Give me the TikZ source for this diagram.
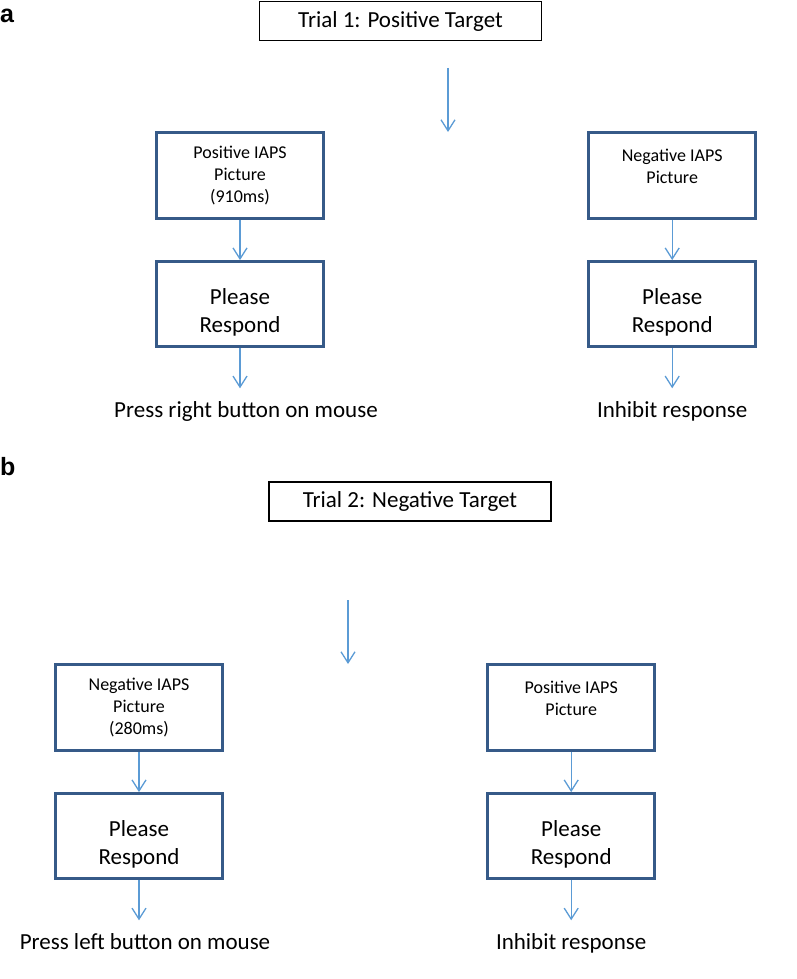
\documentclass[tikz,border=0pt]{standalone}
\usepackage{fontspec}
\setmainfont{Carlito}
\newfontfamily\panelfont{Liberation Sans}
\usetikzlibrary{positioning,arrows.meta}
\definecolor{boxblue}{HTML}{365A88}
\definecolor{arrowblue}{HTML}{5B9BD5}

% extra room so the text sits where the slides put it
\newcommand{\toproom}{\rule{0pt}{33pt}}
\newcommand{\lowroom}{\rule[-18pt]{0pt}{18pt}}

\tikzstyle{trial} = [rectangle, minimum width=282pt, minimum height=39pt, inner sep=0pt, text centered, draw=black, line width=1.2pt, font=\fontsize{23}{27}\selectfont]
\tikzstyle{stimulus} = [rectangle, minimum width=167pt, minimum height=86pt, inner sep=0pt, align=center, draw=boxblue, line width=3.2pt, font=\fontsize{18}{21.7}\selectfont]
\tikzstyle{respond} = [rectangle, minimum width=167pt, minimum height=85pt, inner sep=0pt, align=center, draw=boxblue, line width=3.2pt, font=\fontsize{23}{28}\selectfont]
\tikzstyle{outcome} = [inner xsep=0pt, inner ysep=13pt, font=\fontsize{23}{27}\selectfont]
\tikzstyle{panel} = [anchor=base west, inner sep=0pt, font=\panelfont\bfseries\fontsize{25}{30}\selectfont]
\tikzstyle{arrow} = [draw=arrowblue, line width=1.3pt, -{Straight Barb[length=11pt,width=14pt]}]

\begin{document}
\begin{tikzpicture}[x=1pt, y=-1pt, node distance=40pt]
			\useasboundingbox (0,0) rectangle (797,979);

			% panel a
			\node (la) [panel] at (0,23) {a};
			\node (a0) [trial] at (400.5,21) {Trial 1: Positive Target};
			\coordinate (a9) at (448,68);
			\coordinate (a10) at (448,132);
			\node (a1) [stimulus] at (240,175.5) {Positive IAPS\\Picture\\(910ms)};
			\node (a2) [respond, below=of a1] {\toproom Please\\Respond};
			\node (a3) [outcome, below=of a2, xshift=6pt] {Press right button on mouse};
			\node (a4) [stimulus, right=262pt of a1] {Negative IAPS\\Picture\lowroom};
			\node (a5) [respond, below=of a4] {\toproom Please\\Respond};
			\node (a6) [outcome, below=of a5] {Inhibit response};

			\draw [arrow] (a9) -- (a10);
			\draw [arrow] (a1) -- (a2);
			\draw [arrow] (a2) -- (a2 |- a3.north);
			\draw [arrow] (a4) -- (a5);
			\draw [arrow] (a5) -- (a6);

			% panel b
			\node (lb) [panel] at (0,475) {b};
			\node (b0) [trial] at (410,501.5) {Trial 2: Negative Target};
			\coordinate (b9) at (348,600);
			\coordinate (b10) at (348,664);
			\node (b1) [stimulus] at (139,707.5) {Negative IAPS\\Picture\\(280ms)};
			\node (b2) [respond, below=of b1] {\toproom Please\\Respond};
			\node (b3) [outcome, below=of b2, xshift=6pt] {Press left button on mouse};
			\node (b4) [stimulus, right=262pt of b1] {Positive IAPS\\Picture\lowroom};
			\node (b5) [respond, below=of b4] {\toproom Please\\Respond};
			\node (b6) [outcome, below=of b5] {Inhibit response};

			\draw [arrow] (b9) -- (b10);
			\draw [arrow] (b1) -- (b2);
			\draw [arrow] (b2) -- (b2 |- b3.north);
			\draw [arrow] (b4) -- (b5);
			\draw [arrow] (b5) -- (b6);
		\end{tikzpicture}
\end{document}
